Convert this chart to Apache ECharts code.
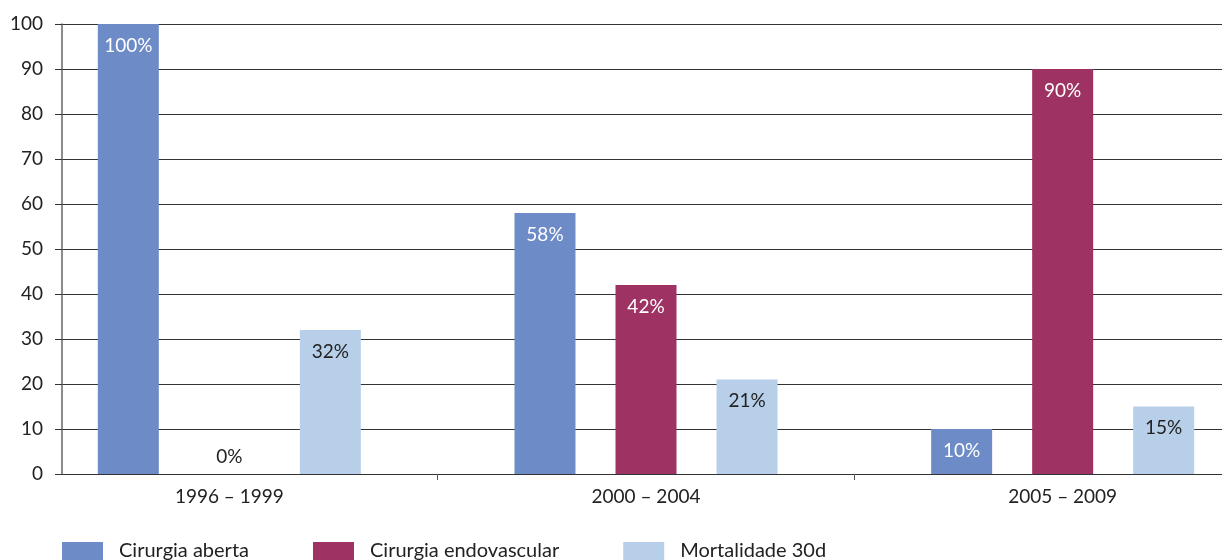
<!DOCTYPE html>
<html>
<head>
<meta charset="utf-8">
<title>Cirurgia aberta vs endovascular</title>
<script src="https://cdn.jsdelivr.net/npm/echarts@6/dist/echarts.min.js"></script>
<style>
  html, body { margin: 0; padding: 0; background: #fff; }
  #main { width: 1222px; height: 560px; }
</style>
</head>
<body>
<div id="main"></div>
<script>
// dados
var categorias = ['1996 – 1999', '2000 – 2004', '2005 – 2009'];
var cirurgiaAberta = [100, 58, 10];
var cirurgiaEndovascular = [0, 42, 90];
var mortalidade30d = [32, 21, 15];
var yTicks = [0, 10, 20, 30, 40, 50, 60, 70, 80, 90, 100];

var fonte = 'Lato, "Noto Sans", sans-serif';

var chart = echarts.init(document.getElementById('main'));

function rotulo(cor) {
    return {
        show: true,
        position: 'insideTop',
        distance: 12,
        formatter: '{c}%',
        color: cor,
        fontFamily: fonte,
        fontSize: 19
    };
}

// valores zero: rótulo acima da base
function comZero(arr) {
    return arr.map(function (v) {
        if (v === 0) {
            return { value: v, label: { position: 'top', distance: 8, color: '#222' } };
        }
        return v;
    });
}

var option = {
    animation: false,
    textStyle: { fontFamily: fonte },
    legend: {
        left: 62,
        top: 541,
        padding: 0,
        icon: 'rect',
        itemWidth: 41,
        itemHeight: 18,
        itemGap: 64,
        textStyle: { fontSize: 20, color: '#222', padding: [0, 0, 0, 11] },
        data: ['Cirurgia aberta', 'Cirurgia endovascular', 'Mortalidade 30d']
    },
    grid: [
        // grade com eixo y e linhas
        { left: 62, right: 0, top: 24, height: 450, outerBoundsMode: 'none' },
        // grade das barras (categorias)
        { left: 21, width: 1250, top: 24, height: 450, outerBoundsMode: 'none' }
    ],
    xAxis: [
        { gridIndex: 0, type: 'value', show: false, min: 0, max: 1 },
        {
            gridIndex: 1,
            type: 'category',
            data: categorias,
            axisLine: { show: false },
            axisTick: {
                show: true,
                length: 6,
                interval: function (index) { return index !== 0; },
                lineStyle: { color: '#555', width: 1 }
            },
            axisLabel: { fontSize: 19, color: '#222', margin: 13 }
        }
    ],
    yAxis: [
        {
            gridIndex: 0,
            type: 'value',
            min: 0,
            max: 100,
            interval: 10,
            axisLine: { show: true, lineStyle: { color: '#666', width: 1.5 } },
            axisTick: { show: true, length: 7, lineStyle: { color: '#333' } },
            axisLabel: {
                fontSize: 19,
                color: '#222',
                margin: 19,
                formatter: function (v) { return yTicks.indexOf(v) >= 0 ? String(v) : ''; }
            },
            splitLine: { show: true, lineStyle: { color: '#333', width: 1 } }
        },
        { gridIndex: 1, type: 'value', min: 0, max: 100, show: false }
    ],
    series: [
        {
            name: 'Cirurgia aberta',
            type: 'bar',
            xAxisIndex: 1,
            yAxisIndex: 1,
            barWidth: 61,
            barGap: '65.6%',
            itemStyle: { color: '#6d8bc7' },
            label: rotulo('#fff'),
            data: comZero(cirurgiaAberta)
        },
        {
            name: 'Cirurgia endovascular',
            type: 'bar',
            xAxisIndex: 1,
            yAxisIndex: 1,
            barWidth: 61,
            barGap: '65.6%',
            itemStyle: { color: '#9e3363' },
            label: rotulo('#fff'),
            data: comZero(cirurgiaEndovascular)
        },
        {
            name: 'Mortalidade 30d',
            type: 'bar',
            xAxisIndex: 1,
            yAxisIndex: 1,
            barWidth: 61,
            barGap: '65.6%',
            itemStyle: { color: '#b8cfe9' },
            label: rotulo('#222'),
            data: comZero(mortalidade30d)
        }
    ]
};

chart.setOption(option);
</script>
</body>
</html>
